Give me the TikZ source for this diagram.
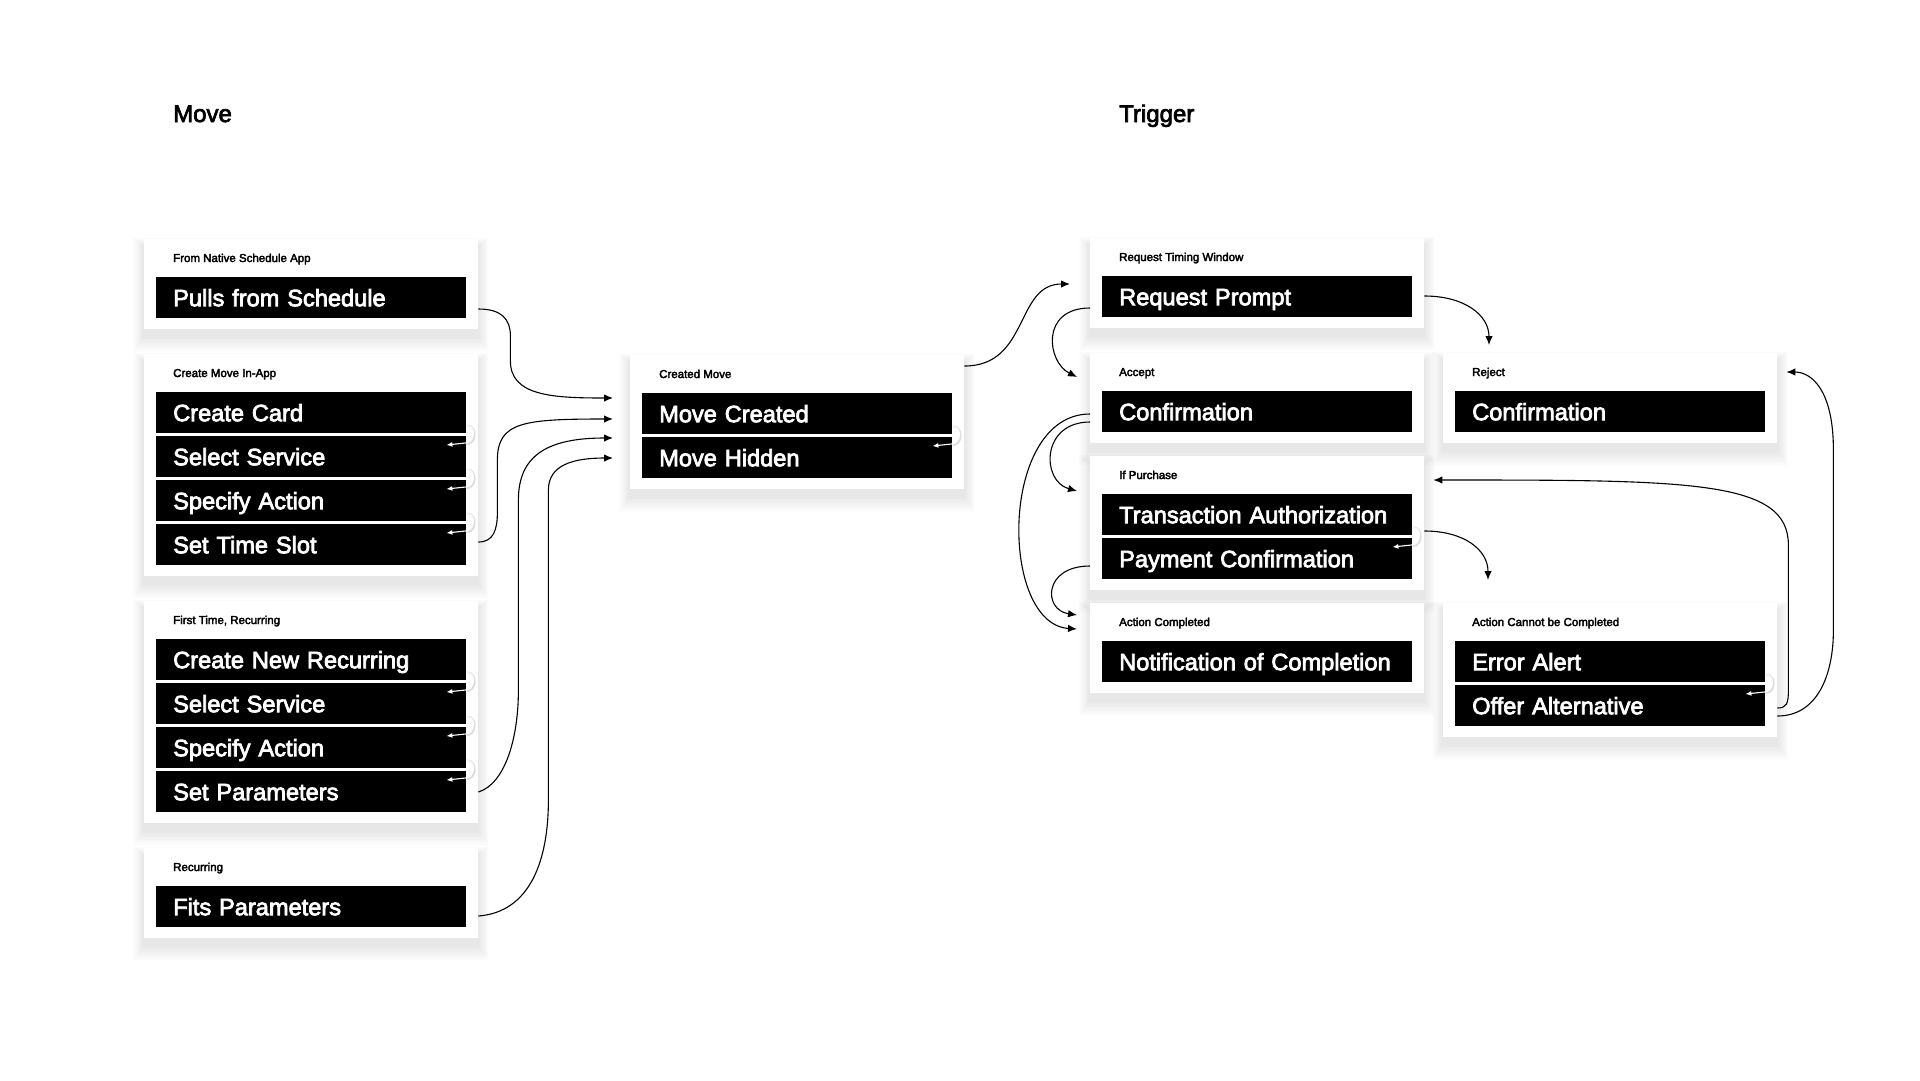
\documentclass[tikz,border=0pt]{standalone}
\usepackage{fontspec}
\usetikzlibrary{arrows.meta,calc}
\newfontfamily\uisans{Liberation Sans}
\pgfdeclarelayer{page}
\pgfdeclarelayer{shade}
\pgfsetlayers{page,shade,main}

% medium-weight look: fill and outline the glyphs with a thin stroke of the text colour
\newcommand\heavier[1]{\special{pdf:literal direct 2 Tr #1 w}}

\tikzset{
  heading/.style={anchor=base west, inner sep=0pt, font=\uisans\fontsize{24}{28}\selectfont\heavier{0.7}},
  card/.style={fill=white, anchor=north west, inner sep=0pt, minimum width=334pt},
  ctitle/.style={anchor=base west, inner sep=0pt, font=\uisans\fontsize{11.5}{13}\selectfont\heavier{0.35}},
  bar/.style={fill=black, text=white, anchor=north west, minimum width=310pt,
    minimum height=41pt, text width=276pt, inner xsep=17pt, inner ysep=0pt,
    align=left, text height=17pt, text depth=0pt,
    font=\uisans\fontsize{23.6}{26}\selectfont\heavier{0.75}},
  conn/.style={draw=black, line width=1.1pt, -{Latex[length=9pt,width=7.5pt]}},
  loopshade/.style={draw=black!13, line width=2.2pt},
  loopline/.style={draw=white, line width=1.1pt, -{Latex[length=6pt,width=5pt]}},
}

% white hand-off arrow from one step bar to the next one inside a card
\newcommand\stepflow[2]{%
  \draw[loopshade] ($(#1.south east)+(0.6,-8)$) .. controls +(11,1) and +(9,0) .. ($(#2.north east)+(0.6,8)$);
  \draw[loopline] ($(#1.south east)+(0,-8)$) .. controls +(11,1) and +(9,0) .. ($(#2.north east)+(-1,7)$) -- ($(#2.north east)+(-20,9)$);
}

\begin{document}
\begin{tikzpicture}[x=1pt, y=-1pt]
\begin{pgfonlayer}{page}
  \fill[white] (0,0) rectangle (1920,1080);
\end{pgfonlayer}
\useasboundingbox (0,0) rectangle (1920,1080);

% section headings
\node[heading] (hMove) at (173,122) {Move};
\node[heading] (hTrig) at (1119,122) {Trigger};

% ---------- Move column ----------
\node[card, minimum height=90pt] (cA) at (144,239) {};
\node[ctitle] (tA) at ($(cA.north west)+(29,23)$) {From Native Schedule App};
\node[bar] (a1) at ($(cA.north west)+(12,38)$) {Pulls from Schedule};

\node[card, minimum height=222pt] (cB) at (144,354) {};
\node[ctitle] (tB) at ($(cB.north west)+(29,23)$) {Create Move In-App};
\node[bar] (b1) at ($(cB.north west)+(12,38)$) {Create Card};
\node[bar] (b2) at ($(cB.north west)+(12,82)$) {Select Service};
\node[bar] (b3) at ($(cB.north west)+(12,126)$) {Specify Action};
\node[bar] (b4) at ($(cB.north west)+(12,170)$) {Set Time Slot};

\node[card, minimum height=222pt] (cC) at (144,601) {};
\node[ctitle] (tC) at ($(cC.north west)+(29,23)$) {First Time, Recurring};
\node[bar] (c1) at ($(cC.north west)+(12,38)$) {Create New Recurring};
\node[bar] (c2) at ($(cC.north west)+(12,82)$) {Select Service};
\node[bar] (c3) at ($(cC.north west)+(12,126)$) {Specify Action};
\node[bar] (c4) at ($(cC.north west)+(12,170)$) {Set Parameters};

\node[card, minimum height=90pt] (cD) at (144,848) {};
\node[ctitle] (tD) at ($(cD.north west)+(29,23)$) {Recurring};
\node[bar] (d1) at ($(cD.north west)+(12,38)$) {Fits Parameters};

% ---------- created move ----------
\node[card, minimum height=134pt] (cM) at (630,355) {};
\node[ctitle] (tM) at ($(cM.north west)+(29,23)$) {Created Move};
\node[bar] (m1) at ($(cM.north west)+(12,38)$) {Move Created};
\node[bar] (m2) at ($(cM.north west)+(12,82)$) {Move Hidden};

% ---------- Trigger column ----------
\node[card, minimum height=90pt] (cR) at (1090,238) {};
\node[ctitle] (tR) at ($(cR.north west)+(29,23)$) {Request Timing Window};
\node[bar] (r1) at ($(cR.north west)+(12,38)$) {Request Prompt};

\node[card, minimum height=90pt] (cAc) at (1090,353) {};
\node[ctitle] (tAc) at ($(cAc.north west)+(29,23)$) {Accept};
\node[bar] (ac1) at ($(cAc.north west)+(12,38)$) {Confirmation};

\node[card, minimum height=134pt] (cP) at (1090,456) {};
\node[ctitle] (tP) at ($(cP.north west)+(29,23)$) {If Purchase};
\node[bar] (p1) at ($(cP.north west)+(12,38)$) {Transaction Authorization};
\node[bar] (p2) at ($(cP.north west)+(12,82)$) {Payment Confirmation};

\node[card, minimum height=90pt] (cAC) at (1090,603) {};
\node[ctitle] (tAC) at ($(cAC.north west)+(29,23)$) {Action Completed};
\node[bar] (n1) at ($(cAC.north west)+(12,38)$) {Notification of Completion};

\node[card, minimum height=90pt] (cRj) at (1443,353) {};
\node[ctitle] (tRj) at ($(cRj.north west)+(29,23)$) {Reject};
\node[bar] (rj1) at ($(cRj.north west)+(12,38)$) {Confirmation};

\node[card, minimum height=134pt] (cX) at (1443,603) {};
\node[ctitle] (tX) at ($(cX.north west)+(29,23)$) {Action Cannot be Completed};
\node[bar] (x1) at ($(cX.north west)+(12,38)$) {Error Alert};
\node[bar] (x2) at ($(cX.north west)+(12,82)$) {Offer Alternative};

% soft drop shadows under the cards
\begin{pgfonlayer}{shade}
  \foreach \c in {cA,cB,cC,cD,cM,cR,cAc,cRj,cP,cAC,cX}{
    \foreach \k in {1,...,12}{
      \fill[black, opacity=0.0075]
        ($(\c.north west)+(-\k*0.9,7-\k*0.7)$) rectangle ($(\c.south east)+(\k*0.9,7+\k*1.3)$);
    }
  }
\end{pgfonlayer}

% step hand-offs inside cards
\stepflow{b1}{b2}
\stepflow{b2}{b3}
\stepflow{b3}{b4}
\stepflow{c1}{c2}
\stepflow{c2}{c3}
\stepflow{c3}{c4}
\stepflow{m1}{m2}
\stepflow{p1}{p2}
\stepflow{x1}{x2}

% ways a move gets created
\draw[conn] ($(cA.north east)+(0,70)$) .. controls +(23,0) and +(0,-17) .. ++(32,27)
  -- ++(0,25) .. controls +(0,35) and +(-60,0) .. ($(cM.north west)+(-17,43)$);
\draw[conn] ($(cB.north east)+(0,188)$) .. controls +(15,0) and +(0,18) .. ++(19,-30)
  -- ++(0,-52) .. controls +(0,-38) and +(-90,0) .. ($(cM.north west)+(-17,64)$);
\draw[conn] ($(cC.north east)+(0,191)$) .. controls +(26,-8) and +(0,50) .. ++(40,-102)
  -- ++(0,-190) .. controls +(0,-45) and +(-65,0) .. ($(cM.north west)+(-17,83)$);
\draw[conn] ($(cD.north east)+(0,68)$) .. controls +(52,-4) and +(0,60) .. ++(70,-116)
  -- ++(0,-310) .. controls +(0,-25) and +(-40,0) .. ($(cM.north west)+(-17,103)$);

% trigger flow
\draw[conn] ($(cM.north east)+(0,11)$) .. controls +(65,0) and +(-55,0) .. ($(cR.north west)+(-20,46)$);
\draw[conn] ($(cR.north west)+(0,70)$) .. controls +(-50,0) and +(-30,-15) .. ($(cAc.north west)+(-13,24)$);
\draw[conn] ($(cR.north east)+(0,58)$) .. controls +(40,0) and +(0,-30) .. ($(cRj.north west)+(46,-8)$);
\draw[conn] ($(cAc.north west)+(0,69)$) .. controls +(-49,0) and +(-36,-10) .. ($(cP.north west)+(-13,35)$);
\draw[conn] ($(cAc.north west)+(0,61)$) .. controls +(-91,0) and +(-78,-5) .. ($(cAC.north west)+(-13,26)$);
\draw[conn] ($(cP.north west)+(0,110)$) .. controls +(-47,0) and +(-34,-5) .. ($(cAC.north west)+(-13,12)$);
\draw[conn] ($(cP.north east)+(0,75)$) .. controls +(40,0) and +(0,-30) .. ($(cX.north west)+(45,-23)$);
\draw[conn] ($(cX.north east)+(0,105)$) .. controls +(9,0) and +(0,14) .. ++(11,-18)
  -- ++(0,-145) .. controls +(0,-65) and +(257,0) .. ($(cP.north east)+(9,24)$);
\draw[conn] ($(cX.north east)+(0,113)$) .. controls +(40,0) and +(0,45) .. ++(56,-86)
  -- ++(0,-180) .. controls +(0,-60) and +(25,0) .. ($(cRj.north east)+(9,19)$);
\end{tikzpicture}
\end{document}
